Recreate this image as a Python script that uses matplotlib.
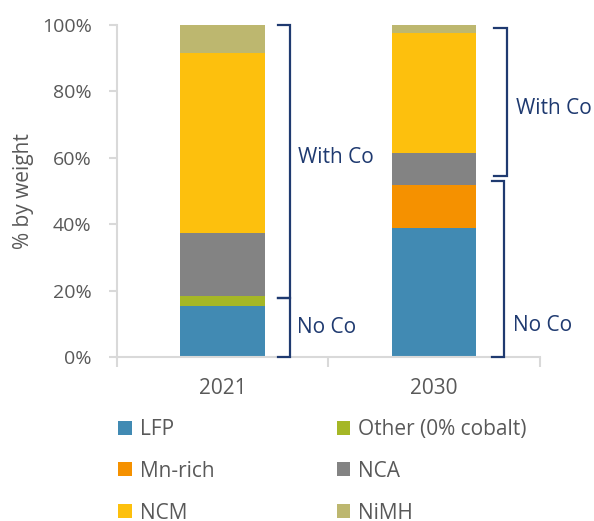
import matplotlib.pyplot as plt
from matplotlib.ticker import PercentFormatter
import numpy as np

plt.rcParams["font.family"] = ["Open Sans", "DejaVu Sans"]

# Data (share of battery chemistries, % by weight)
years = ["2021", "2030"]
chemistries = ["LFP", "Other (0% cobalt)", "Mn-rich", "NCA", "NCM", "NiMH"]
lfp = [15.5, 38.8]
other = [2.8, 0.0]
mn_rich = [0.0, 13.1]
nca = [18.9, 9.4]
ncm = [54.5, 36.2]
nimh = [8.3, 2.5]
colors = ["#418AB3", "#A5B726", "#F59100", "#838383", "#FDC00D", "#BDB76F"]

series = [lfp, other, mn_rich, nca, ncm, nimh]

fig = plt.figure(figsize=(5.94, 5.21), dpi=100)
ax = fig.add_axes([0.1965, 0.3148, 0.7125, 0.6372])

x = np.arange(len(years))
bottom = np.zeros(len(years))
handles = []
for name, vals, c in zip(chemistries, series, colors):
    b = ax.bar(x, vals, width=0.4, bottom=bottom, color=c, label=name)
    handles.append(b)
    bottom += np.array(vals)

ax.set_xlim(-0.5, 1.5)
ax.set_ylim(0, 100)
ax.yaxis.set_major_formatter(PercentFormatter(decimals=0))
ax.set_yticks(range(0, 101, 20))

grey = "#D9D9D9"
text_grey = "#595959"
for s in ["top", "right"]:
    ax.spines[s].set_visible(False)
for s in ["left", "bottom"]:
    ax.spines[s].set_color(grey)
    ax.spines[s].set_linewidth(1.5)

ax.tick_params(axis="y", colors=grey, labelcolor=text_grey, labelsize=14,
               length=6, width=1.5, pad=12)
ax.set_xticks(x)
ax.set_xticklabels(years)
ax.tick_params(axis="x", which="major", length=0, labelsize=15,
               labelcolor=text_grey, pad=15)
ax.set_xticks([-0.5, 0.5, 1.5], minor=True)
ax.tick_params(axis="x", which="minor", length=7, width=1.5, colors=grey)
ax.set_ylabel("% by weight", color=text_grey, fontsize=15, labelpad=6)

# Cobalt brackets
navy = "#1F3A70"
no_co = [lfp[i] + other[i] + mn_rich[i] for i in range(len(years))]


def bracket(xv, y0, y1, hook=0.057):
    ax.plot([xv - hook, xv, xv, xv - hook], [y1, y1, y0, y0],
            color=navy, lw=1.6, clip_on=False, solid_joinstyle="miter",
            zorder=5)


# 2021
bracket(0.319, 0, no_co[0] - 0.5)
bracket(0.319, no_co[0] - 0.5, 100)
ax.text(0.355, 60, "With Co", color=navy, fontsize=15, va="center")
ax.text(0.352, 9, "No Co", color=navy, fontsize=15, va="center")
# 2030
bracket(1.33, 0, no_co[1] + 1)
bracket(1.342, no_co[1] + 2.5, 99)
ax.text(1.385, 75, "With Co", color=navy, fontsize=15, va="center")
ax.text(1.375, 9.6, "No Co", color=navy, fontsize=15, va="center")

order = [0, 2, 4, 1, 3, 5]
leg = fig.legend([handles[i] for i in order], [chemistries[i] for i in order],
                 ncol=2, loc="upper left", bbox_to_anchor=(0.199, 0.196),
                 frameon=False, fontsize=15, handlelength=0.65,
                 handleheight=0.65, handletextpad=0.4, labelspacing=1.0,
                 columnspacing=5.85, borderaxespad=0, borderpad=0)
for t in leg.get_texts():
    t.set_color(text_grey)

fig.savefig("out.png", dpi=100)
